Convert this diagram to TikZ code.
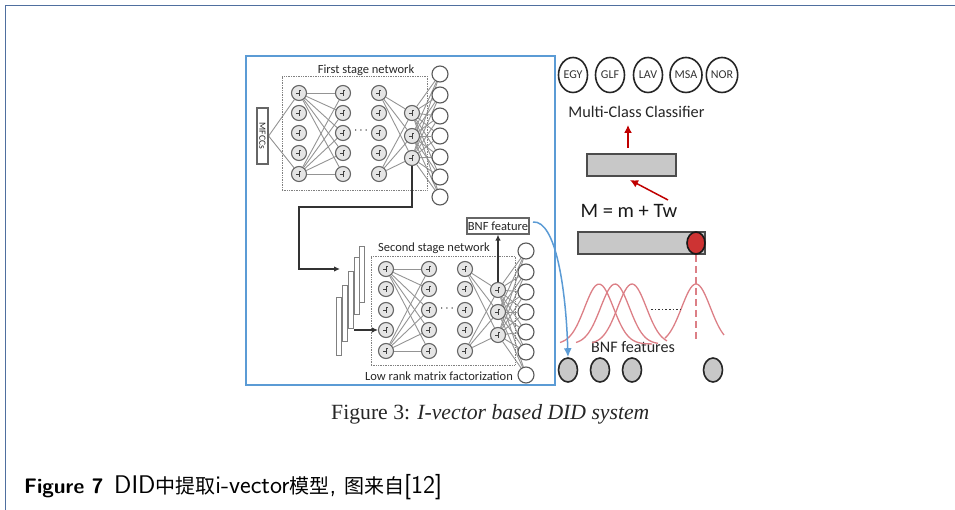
\documentclass[tikz,border=0pt]{standalone}
\usepackage{fontspec}
\newfontfamily\cjk{Noto Sans CJK SC}
\newfontfamily\timesfont{Liberation Serif}
\newfontfamily\labelfont{Carlito}
\usepackage{tikz}
\usetikzlibrary{positioning}
\usetikzlibrary{calc}
\usetikzlibrary{arrows.meta}
\usetikzlibrary{shapes.geometric}
\usetikzlibrary{backgrounds}
\definecolor{framecol}{HTML}{4F6F9F}
\definecolor{bluecol}{HTML}{5B9BD5}
\definecolor{redcol}{HTML}{C00000}
\definecolor{barcol}{HTML}{C8C8C8}
\definecolor{curvecol}{HTML}{DC7F86}
\tikzset{
    neuron/.style={circle, draw=black!60, fill=black!10, line width=1.1pt, minimum size=15pt, inner sep=0pt,
        path picture={\draw[black!75, line width=0.6pt] ([xshift=-3pt]path picture bounding box.center) -- ++(3,0) -- ++(0,-3) -- ++(2,0) (path picture bounding box.center) -- ++(0,3);}},
    outn/.style={circle, draw=black!65, fill=white, line width=1.1pt, minimum size=16pt, inner sep=0pt},
    link/.style={black!42, line width=0.9pt},
    dashbox/.style={draw=black!50, densely dotted, line width=0.7pt},
    labelbox/.style={draw=black!60, fill=white, line width=1.2pt, inner sep=0pt},
    flow/.style={black!80, line width=1.2pt, -{Latex[length=6pt,width=5.5pt]}},
    redarrow/.style={redcol, line width=1.5pt, -{Latex[length=8pt,width=8pt]}},
    dialect/.style={ellipse, draw=black!85, line width=1.6pt, minimum width=29pt, minimum height=35pt, inner sep=0pt, font=\labelfont\fontsize{12}{12}\selectfont, text=black!80},
    bnfc/.style={ellipse, draw=black!85, fill=barcol, line width=1.6pt, minimum width=19pt, minimum height=24pt, inner sep=0pt},
    gbar/.style={draw=black!70, fill=barcol, line width=1.4pt, inner sep=0pt},
    sheet/.style={draw=black!50, fill=white, line width=0.9pt, inner sep=0pt},
    txt/.style={text=black!85, inner sep=0pt, font=\labelfont\fontsize{12.5}{13}\selectfont},
}
\newcommand{\cjktxt}[1]{{\cjk\fontsize{20}{20}\selectfont #1}}
\begin{document}
\begin{tikzpicture}[x=1pt, y=-1pt]
    \useasboundingbox (0,0) rectangle (955,510);
    \draw[framecol, line width=1.2pt] (5.5,510) -- (5.5,5.5) -- (955,5.5);
    \node[draw=bluecol, line width=2.6pt, minimum width=309pt, minimum height=329pt, inner sep=0pt] (panel) at (400.5,220.5) {};

    % first stage network
    \node[dashbox, minimum width=145pt, minimum height=114pt, inner sep=0pt] (box1) at (354.5,133) {};
    \node[txt] (title1) at (366,70) {First stage network};
    \node[labelbox, minimum width=11pt, minimum height=56pt] (mfcc) at (262.5,136) {};
    \node[rotate=-90, font=\labelfont\fontsize{9.5}{10}\selectfont, text=black!85, inner sep=0pt] (mfcctxt) at (262.5,136) {MFCCs};
    \foreach \i/\y in {1/93, 2/113, 3/133, 4/153, 5/174} {
        \node[neuron] (a\i) at (299,\y) {};
        \node[neuron] (b\i) at (343,\y) {};
        \node[neuron] (c\i) at (379,\y) {};
    }
    \foreach \i/\y in {1/113, 2/136, 3/158}
        \node[neuron] (h\i) at (412,\y) {};
    \foreach \i/\y in {1/74, 2/95, 3/116, 4/136, 5/157, 6/177, 7/197}
        \node[outn] (o\i) at (440,\y) {};
    \node[font=\bfseries\fontsize{12}{12}\selectfont, inner sep=0pt] (dots1) at (361,131) {$\cdots$};
    \begin{scope}[on background layer]
    \foreach \i in {1,...,5} {
        \draw[link] (a1) -- (b\i);
        \draw[link] (a5) -- (b\i);
    }
    \draw[link] (mfcc.east) -- (a1) (mfcc.east) -- (a5);
    \foreach \i in {1,2,3} {
        \draw[link] (c1) -- (h\i);
        \draw[link] (c5) -- (h\i);
        \foreach \j in {1,...,7}
            \draw[link] (h\i) -- (o\j);
    }
    \end{scope}

    % second stage network
    \node[dashbox, minimum width=144pt, minimum height=109pt, inner sep=0pt] (box2) at (443,310.5) {};
    \node[txt] (title2) at (434,248) {Second stage network};
    \node[txt] (lowrank) at (439,376) {Low rank matrix factorization};
    \node[labelbox, minimum width=62pt, minimum height=16pt, txt] (bnfbox) at (498,226) {BNF feature};
    \foreach \i/\y in {1/269, 2/289, 3/310, 4/330, 5/351} {
        \node[neuron] (d\i) at (386,\y) {};
        \node[neuron] (e\i) at (429,\y) {};
        \node[neuron] (f\i) at (465,\y) {};
    }
    \foreach \i/\y in {1/290, 2/312, 3/335}
        \node[neuron] (g\i) at (498,\y) {};
    \foreach \i/\y in {1/251, 2/272, 3/292, 4/312, 5/332, 6/352, 7/375}
        \node[outn] (p\i) at (526,\y) {};
    \node[font=\bfseries\fontsize{12}{12}\selectfont, inner sep=0pt] (dots2) at (447,309) {$\cdots$};
    \begin{scope}[on background layer]
    \foreach \i in {1,...,5} {
        \draw[link] (d1) -- (e\i);
        \draw[link] (d5) -- (e\i);
    }
    \foreach \i in {1,2,3} {
        \draw[link] (f1) -- (g\i);
        \draw[link] (f5) -- (g\i);
        \foreach \j in {1,...,7}
            \draw[link] (g\i) -- (p\j);
    }
    \end{scope}
    % stacked input frames
    \node[sheet, minimum width=5pt, minimum height=58pt] (s1) at (339,326) {};
    \node[sheet, minimum width=5pt, minimum height=56pt] (s2) at (345,313) {};
    \node[sheet, minimum width=5pt, minimum height=57pt] (s3) at (351,299.5) {};
    \node[sheet, minimum width=5pt, minimum height=57pt] (s4) at (356.5,285.5) {};
    \node[sheet, minimum width=5pt, minimum height=56pt] (s5) at (362,274) {};

    \coordinate (turn1) at (412,207);
    \coordinate (turn2) at (299,207);
    \coordinate (turn3) at (299,269);
    \coordinate (sin1) at (340,269);
    \coordinate (sout) at (354,330);
    \draw[flow] (h3) -- (turn1) -- (turn2) -- (turn3) -- (sin1);
    \draw[flow] (sout) -- (d4);
    \draw[flow] (g1) -- (bnfbox.south -| g1);

    % i-vector side
    \foreach \n/\x/\t in {egy/573/EGY, glf/610/GLF, lav/648/LAV, msa/686/MSA, nor/722/NOR}
        \node[dialect] (\n) at (\x,75) {\t};
    \node[txt, font=\labelfont\fontsize{16.3}{17}\selectfont] (classifier) at (636.5,112) {Multi-Class Classifier};
    \node[gbar, minimum width=89pt, minimum height=22pt] (wbar) at (631.5,165) {};
    \node[txt, font=\labelfont\fontsize{20.5}{21}\selectfont, text=black!90] (eqn) at (629,211) {M = m + Tw};
    \node[gbar, minimum width=127pt, minimum height=22pt] (mbar) at (641.5,243) {};
    \node[ellipse, draw=black!90, fill=redcol!80, line width=1.6pt, minimum width=18pt, minimum height=22pt, inner sep=0pt] (mred) at (696,243) {};
    \foreach \n/\x in {n1/568, n2/600, n3/632, n4/713}
        \node[bnfc] (\n) at (\x,370) {};
    \node[txt, font=\labelfont\fontsize{16.1}{16}\selectfont] (bnftxt) at (633,347) {BNF features};

    \coordinate (cls) at (628,125);
    \coordinate (wbase) at (628,148);
    \coordinate (mstart) at (668,200);
    \coordinate (mend) at (630,180);
    \coordinate (dashend) at (696,342);
    \draw[redarrow] (wbase) -- (cls);
    \draw[redarrow] (mstart) -- (mend);
    \draw[curvecol, dashed, dash pattern=on 7pt off 4pt, line width=1.2pt] (mred) -- (dashend);

    \foreach \m/\a/\b in {599/560/652, 615/576/658, 632/592/667, 696/665/724}
        \draw[curvecol, line width=1.3pt] plot[domain=\a:\b, samples=40, smooth] (\x, {284+60*(1-exp(-((\x-\m)/14.4)^2/2))});
    \coordinate (dota) at (651,309.5);
    \coordinate (dotb) at (681,309.5);
    \draw[black!80, dotted, line width=1.6pt] (dota) -- (dotb);

    \coordinate (bnfout) at (533,222);
    \draw[bluecol, line width=1.5pt, -{Latex[length=9pt,width=8pt]}] (bnfout) .. controls (556,220) and (566,290) .. (n1.north);

    % captions
    \node[anchor=west, inner sep=0pt, text=black!85, font=\timesfont\fontsize{21.7}{22}\selectfont] (fig3) at (331,414) {Figure 3: \textit{I-vector based DID system}};
    \node[anchor=west, inner sep=0pt, font=\sffamily\fontsize{25.5}{26}\selectfont] (fig7) at (24,487) {{\fontsize{21}{21}\selectfont\textbf{Figure 7}}\hspace{0.42em}DID\cjktxt{中提取}i-vector\cjktxt{模型}, \cjktxt{图来自}[12]};
\end{tikzpicture}
\end{document}
